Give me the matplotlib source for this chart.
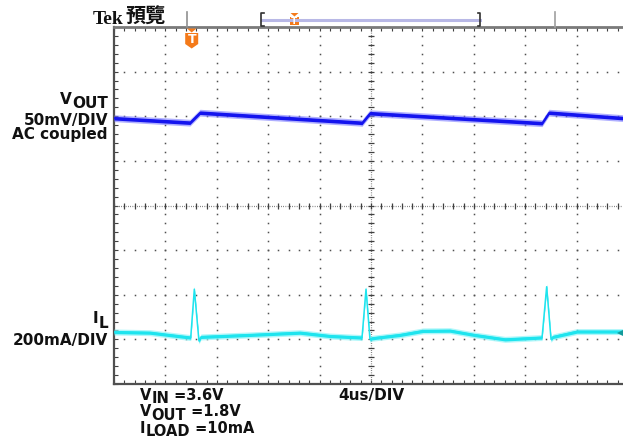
import numpy as np
import matplotlib.pyplot as plt
from matplotlib.patches import Polygon

W, H = 623, 443

# scope settings
t_per_div = 4.0          # us/DIV
vout_scale = 50.0        # mV/DIV
il_scale = 200.0         # mA/DIV
vout_pos = 2.0           # channel position in divisions
il_pos = -2.85

# VOUT ripple (AC coupled), time in us, value in mV
vout_t = [0.0, 5.91, 6.69, 19.14, 19.30, 19.92, 33.31, 33.85, 40.0]
vout_mv = [-2.2, -7.2, 4.0, -7.2, -7.5, 3.4, -7.8, 4.0, -2.5]

# inductor current, time in us, value in mA
il_t = [0.0, 2.80, 5.97, 6.25, 6.61, 6.77, 10.58, 14.47, 16.81, 19.30, 19.61, 19.92, 20.08,
        22.26, 24.05, 26.15, 28.02, 30.43, 33.15, 33.31, 33.67, 34.01, 34.16, 36.03, 40.0]
il_ma = [3, 0, -22, 195, -37, -19, -10, 0, -15, -22, 195, -30, -25,
         -10, 8, 9, -10, -30, -22, -22, 206, -30, -19, 5, 5]

fig = plt.figure(figsize=(W / 100, H / 100), dpi=100)

# plot area in pixels: left 114, right 628 (cropped), top 27, bottom 384
ax = fig.add_axes([114 / W, (H - 384) / H, (628 - 114) / W, (384 - 27) / H])
ax.set_xlim(0, 10 * t_per_div)
ax.set_ylim(-4, 4)
ax.set_xticks(np.arange(0, 41, 4))
ax.set_xticks(np.arange(0, 40.01, 0.8), minor=True)
ax.set_yticks(np.arange(-4, 5, 1))
ax.set_yticks(np.arange(-4, 4.01, 0.2), minor=True)
ax.tick_params(which='both', direction='in', length=3, width=0.8, color='#404040',
               top=True, right=True, labelbottom=False, labelleft=False)
for s in ax.spines.values():
    s.set_color('#505050')
    s.set_linewidth(1.6)
ax.spines['top'].set_color('#7a7a7a')
ax.spines['top'].set_linewidth(2)

# graticule dots
ys = np.arange(-4, 4.01, 0.2)
xs = np.arange(0, 40.01, 0.8)
for gx in [4, 8, 12, 16, 24, 28, 32, 36]:
    ax.plot(np.full_like(ys, gx), ys, ls='none', marker='s', ms=1.1, mew=0, color='#505050')
for gy in [-3, -2, -1, 1, 2, 3]:
    ax.plot(xs, np.full_like(xs, gy), ls='none', marker='s', ms=1.1, mew=0, color='#505050')
# centre cross
ax.plot([20, 20], [-4, 4], ls=(0, (0.6, 1.2)), lw=0.9, color='#606060')
ax.plot([0, 40], [0, 0], ls=(0, (0.6, 1.2)), lw=0.9, color='#606060')
ax.plot(np.full_like(ys, 20), ys, ls='none', marker='_', ms=4, mew=0.9, color='#404040')
ax.plot(xs, np.zeros_like(xs), ls='none', marker='|', ms=4, mew=0.9, color='#404040')

px = 1 / 44.6  # one pixel in divisions

# VOUT trace
vt = np.array(vout_t)
vy = vout_pos + np.array(vout_mv) / vout_scale
ax.fill_between(vt, vy - 3.4 * px, vy + 3.4 * px, color='#7a7aff', alpha=0.6, lw=0, zorder=3)
ax.fill_between(vt, vy - 1.8 * px, vy + 1.8 * px, color='#1414ee', lw=0, zorder=4)
ax.plot(vt, vy, color='#1414ee', lw=1.0, zorder=4)

# IL trace
it = np.array(il_t)
iy = il_pos + np.array(il_ma) / il_scale
ax.fill_between(it, iy - 3.0 * px, iy + 3.0 * px, color='#8ef4f8', alpha=0.7, lw=0, zorder=3)
ax.fill_between(it, iy - 1.6 * px, iy + 1.6 * px, color='#1ee4ee', lw=0, zorder=4)
ax.plot(it, iy, color='#1ee4ee', lw=1.1, zorder=4)
ax.plot([39.55], [il_pos], marker='<', ms=7, color='#139a9a', mew=0, clip_on=False, zorder=5)

# overlay in pixel coordinates for the labels and header
ov = fig.add_axes([0, 0, 1, 1])
ov.set_xlim(0, W)
ov.set_ylim(H, 0)
ov.axis('off')

rend = fig.canvas.get_renderer()


def put(segs, x, y, ha='left', size=11):
    objs = [ov.text(0, y + dy, s, fontsize=size, va='baseline', ha='left', weight='bold',
                    family='DejaVu Sans', color='#111111') for s, dy in segs]
    widths = [o.get_window_extent(rend).width for o in objs]
    x0 = x - sum(widths) if ha == 'right' else x
    for o, w in zip(objs, widths):
        o.set_x(x0)
        x0 += w


put([('V', 0), ('OUT', 4)], 108, 104, ha='right')
ov.text(108, 139.5, '50mV/DIV\nAC coupled', fontsize=11, weight='bold', family='DejaVu Sans',
        color='#111111', ha='right', va='baseline', multialignment='right', linespacing=0.95)
put([('I', 0), ('L', 5)], 108, 323, ha='right')
put([('200mA/DIV', 0)], 108, 345, ha='right')
put([('V', 0), ('IN', 3), (' =3.6V', 0)], 140, 400, size=10.5)
put([('V', 0), ('OUT', 3.5), (' =1.8V', 0)], 140, 416.5, size=10.5)
put([('I', 0), ('LOAD', 3.5), (' =10mA', 0)], 140, 433, size=10.5)
put([('4us/DIV', 0)], 338, 400)

# header
ov.text(93, 24, 'Tek', family='Liberation Serif', weight='bold', fontsize=14,
        va='baseline', color='#111111')
ov.text(125, 22.5, '預覽', family='Noto Sans CJK TC', weight='bold', fontsize=14.5,
        va='baseline', color='#111111')
ov.plot([186.7, 186.7], [12, 27], color='#909090', lw=1.2)
ov.plot([555, 555], [12, 27], color='#a0a0a0', lw=1.2)
ov.plot([262, 480], [20, 20], color='#b8b8e6', lw=2.2)
ov.plot([263.5, 261, 261, 263.5], [13, 13, 25.5, 25.5], color='#303030', lw=1.2)
ov.plot([477.5, 480, 480, 477.5], [13, 13, 25.5, 25.5], color='#303030', lw=1.2)

orange = '#f47a1a'
# trigger position marker in the header
ov.add_patch(Polygon([(290.5, 13), (298.5, 13), (294.5, 16.5)], closed=True, fc=orange, ec='none'))
ov.add_patch(Polygon([(289.5, 16.5), (299, 16.5), (299, 25), (289.5, 25)], closed=True,
                     fc=orange, ec='none'))
ov.text(294.2, 21.5, 'T', fontsize=6.5, weight='bold', color='white', ha='center', va='center')
# trigger marker below the top edge
ov.add_patch(Polygon([(187, 28.5), (196.5, 28.5), (191.7, 32.5)], closed=True, fc=orange, ec='none'))
ov.add_patch(Polygon([(185.2, 33), (198.2, 33), (198.2, 44), (191.7, 48.5), (185.2, 44)],
                     closed=True, fc=orange, ec='none'))
ov.text(191.7, 39.5, 'T', fontsize=9, weight='bold', color='white', ha='center', va='center')

fig.savefig('out.png', dpi=100)
